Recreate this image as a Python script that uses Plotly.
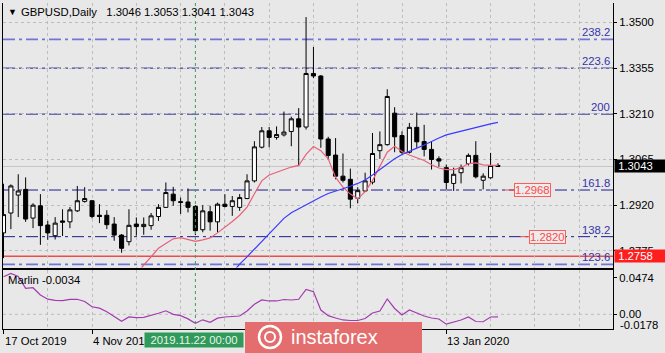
import plotly.graph_objects as go

# ---------------- data ----------------
date_labels = ["17 Oct 2019", "4 Nov 2019", "13 Jan 2020"]
date_label_bars = [0, 12, 60]
crosshair_bar = 26
crosshair_label = "2019.11.22 00:00"

opens = [1.2832, 1.2895, 1.2952, 1.2970, 1.2879, 1.2918, 1.2857, 1.2823, 1.2870, 1.2867,
         1.2902, 1.2932, 1.2934, 1.2888, 1.2888, 1.2860, 1.2825, 1.2804, 1.2860, 1.2852,
         1.2855, 1.2884, 1.2913, 1.2955, 1.2931, 1.2930, 1.2916, 1.2842, 1.2899, 1.2867,
         1.2923, 1.2916, 1.2913, 1.2941, 1.2997, 1.3104, 1.3156, 1.3135, 1.3143, 1.3154,
         1.3194, 1.3168, 1.3338, 1.3330, 1.3130, 1.3079, 1.3012, 1.3002, 1.2942, 1.2965,
         1.2993, 1.3093, 1.3112, 1.3212, 1.3141, 1.3088, 1.3167, 1.3122, 1.3097, 1.3067,
         1.3039, 1.2989, 1.3023, 1.3052, 1.3078, 1.2999, 1.3007, 1.3046]
highs = [1.2988, 1.2986, 1.3018, 1.3008, 1.2926, 1.2955, 1.2870, 1.2882, 1.2907, 1.2914,
         1.2981, 1.2977, 1.2936, 1.2923, 1.2904, 1.2882, 1.2828, 1.2907, 1.2881, 1.2881,
         1.2895, 1.2923, 1.2992, 1.2978, 1.2944, 1.2973, 1.2920, 1.2920, 1.2918, 1.2928,
         1.2955, 1.2949, 1.2955, 1.3018, 1.3123, 1.3168, 1.3168, 1.3170, 1.3217, 1.3201,
         1.3228, 1.3517, 1.3422, 1.3333, 1.3137, 1.3133, 1.3084, 1.3036, 1.2977, 1.3023,
         1.3149, 1.3154, 1.3288, 1.3231, 1.3154, 1.3181, 1.3214, 1.3175, 1.3123, 1.3075,
         1.3049, 1.3039, 1.3049, 1.3084, 1.3123, 1.3021, 1.3086, 1.3053]
lows = [1.2752, 1.2844, 1.2882, 1.2867, 1.2847, 1.2794, 1.2810, 1.2811, 1.2822, 1.2847,
        1.2898, 1.2928, 1.2878, 1.2863, 1.2844, 1.2807, 1.2769, 1.2792, 1.2823, 1.2826,
        1.2842, 1.2870, 1.2911, 1.2918, 1.2892, 1.2897, 1.2825, 1.2834, 1.2839, 1.2834,
        1.2913, 1.2886, 1.2902, 1.2939, 1.2992, 1.3100, 1.3104, 1.3128, 1.3138, 1.3107,
        1.3044, 1.3160, 1.3323, 1.3102, 1.3065, 1.3002, 1.2992, 1.2910, 1.2926, 1.2962,
        1.2986, 1.3067, 1.3109, 1.3088, 1.3081, 1.3084, 1.3102, 1.3075, 1.3033, 1.3042,
        1.2970, 1.2965, 1.2989, 1.3046, 1.3005, 1.2970, 1.3004, 1.3041]
closes = [1.2890, 1.2981, 1.2965, 1.2876, 1.2920, 1.2855, 1.2832, 1.2863, 1.2866, 1.2905,
          1.2934, 1.2941, 1.2884, 1.2884, 1.2858, 1.2825, 1.2783, 1.2856, 1.2852, 1.2859,
          1.2886, 1.2913, 1.2960, 1.2934, 1.2929, 1.2913, 1.2839, 1.2902, 1.2867, 1.2923,
          1.2916, 1.2934, 1.2944, 1.2997, 1.3105, 1.3156, 1.3135, 1.3144, 1.3152, 1.3194,
          1.3168, 1.3338, 1.3330, 1.3130, 1.3078, 1.3012, 1.2999, 1.2939, 1.2966, 1.2997,
          1.3084, 1.3112, 1.3265, 1.3137, 1.3088, 1.3167, 1.3121, 1.3097, 1.3065, 1.3060,
          1.2992, 1.3018, 1.3039, 1.3078, 1.3010, 1.3012, 1.3046, 1.3043]

ma_fast_start = 18
ma_fast = [1.2700, 1.2730, 1.2756, 1.2783, 1.2798, 1.2813, 1.2817, 1.2812, 1.2805, 1.2810,
           1.2816, 1.2832, 1.2849, 1.2868, 1.2888, 1.2914, 1.2956, 1.2997, 1.3016, 1.3025,
           1.3033, 1.3041, 1.3046, 1.3081, 1.3106, 1.3093, 1.3067, 1.3008, 1.2977, 1.2955,
           1.2940, 1.2963, 1.2998, 1.3041, 1.3088, 1.3107, 1.3090, 1.3079, 1.3071, 1.3062,
           1.3048, 1.3038, 1.3033, 1.3033, 1.3039, 1.3052, 1.3054, 1.3048, 1.3046, 1.3046]

ma_slow_start = 31
ma_slow = [1.2705, 1.2733, 1.2756, 1.2780, 1.2806, 1.2831, 1.2855, 1.2878, 1.2896, 1.2909,
           1.2922, 1.2934, 1.2946, 1.2957, 1.2964, 1.2972, 1.2980, 1.2989, 1.3000, 1.3016,
           1.3033, 1.3050, 1.3067, 1.3081, 1.3092, 1.3101, 1.3111, 1.3123, 1.3133, 1.3143,
           1.3149, 1.3156, 1.3161, 1.3167, 1.3172, 1.3178, 1.3183]

marlin = [0.0491, 0.0533, 0.0493, 0.0339, 0.0347, 0.0252, 0.0197, 0.0183, 0.0179, 0.0196,
          0.0196, 0.0167, 0.0098, 0.0080, 0.0034, -0.0033, -0.0091, -0.0034, -0.0043, -0.0040,
          -0.0016, 0.0013, 0.0046, 0.0000, -0.0017, -0.0060, -0.0117, -0.0072, -0.0104, -0.0050,
          -0.0035, -0.0027, -0.0022, 0.0043, 0.0131, 0.0187, 0.0174, 0.0174, 0.0193, 0.0187,
          0.0196, 0.0326, 0.0296, 0.0056, -0.0018, -0.0048, -0.0074, -0.0081, -0.0081, -0.0055,
          0.0017, 0.0043, 0.0200, 0.0076, -0.0009, 0.0056, 0.0013, -0.0022, -0.0048, -0.0061,
          -0.0129, -0.0101, -0.0074, -0.0035, -0.0094, -0.0097, -0.0035, -0.0034]

fib_levels = ["238.2", "223.6", "200", "161.8", "138.2", "123.6"]
fib_prices = [1.3446, 1.3355, 1.3209, 1.2968, 1.2820, 1.2732]
price_labels = [1.2968, 1.2820]
bid_price = 1.3043
support_price = 1.2758
marlin_ticks = [0.0474, 0.0]
marlin_tick_text = ["0.0474", "0.00"]
marlin_min_label = "-0.0178"

title_text = "GBPUSD,Daily\u00a0\u00a0 1.3046 1.3053 1.3041 1.3043"
marlin_text = "Marlin -0.0034"

# ---------------- figure ----------------
W, H = 665, 353
def px(x):
    return x / W
def py(y):
    return 1 - y / H

FONT = "Liberation Sans, Arial, sans-serif"
BG = "#e8e8e8"
GRID = "#bdbdbd"
bars = list(range(len(opens)))

fig = go.Figure()
fig.add_trace(go.Candlestick(
    x=bars, open=opens, high=highs, low=lows, close=closes,
    xaxis="x", yaxis="y", whiskerwidth=0, hoverinfo="skip",
    increasing=dict(line=dict(color="black", width=1), fillcolor="white"),
    decreasing=dict(line=dict(color="black", width=1), fillcolor="black"),
))
fig.add_trace(go.Scatter(
    x=list(range(ma_fast_start, ma_fast_start + len(ma_fast))), y=ma_fast,
    mode="lines", line=dict(color="#e8607a", width=1.2), xaxis="x", yaxis="y", hoverinfo="skip"))
fig.add_trace(go.Scatter(
    x=list(range(ma_slow_start, ma_slow_start + len(ma_slow))), y=ma_slow,
    mode="lines", line=dict(color="#3a3aff", width=1.2), xaxis="x", yaxis="y", hoverinfo="skip"))
fig.add_trace(go.Scatter(
    x=bars, y=marlin, mode="lines", line=dict(color="#a33bb0", width=1.2),
    xaxis="x2", yaxis="y2", hoverinfo="skip"))

xr = [-0.068, 82.59]
main_dom = [1 - 267.5 / H, 1 - 3 / H]
low_dom = [1 - 329.3 / H, 1 - 270 / H]
x_dom = [3 / W, 613 / W]

fig.update_layout(
    width=W, height=H, margin=dict(l=0, r=0, t=0, b=0),
    paper_bgcolor=BG, plot_bgcolor=BG, showlegend=False,
    boxgap=0.45, boxgroupgap=0,
    font=dict(family=FONT, size=11, color="black"),
    xaxis=dict(domain=x_dom, range=xr, anchor="y", showgrid=True, gridcolor=GRID,
               griddash="dot", gridwidth=1, tickmode="linear", tick0=0, dtick=6,
               showticklabels=False, ticks="", zeroline=False, showline=True,
               linecolor="black", linewidth=1, rangeslider=dict(visible=False), fixedrange=True),
    yaxis=dict(domain=main_dom, range=[1.27221, 1.35617], anchor="x", side="right",
               tickmode="linear", tick0=1.2775, dtick=0.0145, tickformat=".4f",
               ticks="outside", ticklen=3, tickcolor="black", showline=True, mirror=True,
               linecolor="black", linewidth=1, showgrid=True, gridcolor=GRID, griddash="dot",
               zeroline=False, tickfont=dict(size=11.3, family=FONT)),
    xaxis2=dict(domain=x_dom, range=xr, anchor="y2", matches="x", showgrid=True,
                gridcolor=GRID, griddash="dot", tickmode="array", tickvals=date_label_bars,
                ticks="outside", ticklen=4, tickcolor="black", showticklabels=False,
                minor=dict(tickmode="linear", tick0=0, dtick=6, showgrid=True,
                           gridcolor=GRID, griddash="dot", ticks=""),
                zeroline=False, showline=True, mirror=True, linecolor="black", linewidth=1),
    yaxis2=dict(domain=low_dom, range=[-0.01958, 0.05783], anchor="x2", side="right",
                tickmode="array", tickvals=marlin_ticks, ticktext=marlin_tick_text,
                ticks="outside", ticklen=3, tickcolor="black", showline=True, mirror=True,
                linecolor="black", linewidth=1, showgrid=False, zeroline=False,
                tickfont=dict(size=11.3, family=FONT)),
)

shapes = []
# zero line of Marlin
shapes.append(dict(type="line", xref="x2 domain", x0=0, x1=1, yref="y2", y0=0, y1=0,
                   line=dict(color=GRID, width=1, dash="dot"), layer="below"))
# bid line
shapes.append(dict(type="line", xref="x domain", x0=0, x1=1, yref="y", y0=bid_price, y1=bid_price,
                   line=dict(color="#c4c4c4", width=1), layer="below"))
# support line
shapes.append(dict(type="line", xref="x domain", x0=0, x1=1, yref="y", y0=support_price, y1=support_price,
                   line=dict(color="#f04a4a", width=1.6), layer="below"))
# fibonacci lines
for lvl, p in zip(fib_levels, fib_prices):
    light = lvl in ("238.2", "123.6")
    shapes.append(dict(type="line", xref="x domain", x0=0, x1=1, yref="y", y0=p, y1=p,
                       line=dict(color="#7474d8" if light else "#1c1c8e",
                                 width=1.8 if light else 1, dash="12px,4px,3px,4px"),
                       layer="below"))
# red connectors to price labels
shapes.append(dict(type="line", xref="paper", x0=px(505), x1=px(515), yref="y",
                   y0=price_labels[0], y1=price_labels[0], line=dict(color="#f04a4a", width=1)))
shapes.append(dict(type="line", xref="paper", x0=px(520), x1=px(530), yref="y",
                   y0=price_labels[1], y1=price_labels[1], line=dict(color="#f04a4a", width=1)))
# crosshair
shapes.append(dict(type="line", xref="x", x0=crosshair_bar, x1=crosshair_bar, yref="paper",
                   y0=py(330), y1=py(3), line=dict(color="#3f9a60", width=1, dash="dot"),
                   layer="above"))
# watermark box
shapes.append(dict(type="rect", xref="paper", yref="paper", x0=px(245), x1=px(422),
                   y0=py(353), y1=py(322), fillcolor="#e46d6d", line=dict(width=0), layer="above"))
shapes.append(dict(type="circle", xref="paper", yref="paper", x0=px(259), x1=px(281),
                   y0=py(348), y1=py(326), line=dict(color="white", width=2.5), layer="above"))
shapes.append(dict(type="circle", xref="paper", yref="paper", x0=px(265), x1=px(275),
                   y0=py(342), y1=py(332), line=dict(color="white", width=2), layer="above"))
fig.update_layout(shapes=shapes)

ann = []
ann.append(dict(text="\u25bc", x=px(6), y=py(12), xref="paper", yref="paper",
                xanchor="left", yanchor="middle", showarrow=False, font=dict(size=9)))
ann.append(dict(text=title_text, x=px(19), y=py(12), xref="paper", yref="paper",
                xanchor="left", yanchor="middle", showarrow=False, font=dict(size=11.3)))
ann.append(dict(text=marlin_text, x=px(6), y=py(280), xref="paper", yref="paper",
                xanchor="left", yanchor="middle", showarrow=False, font=dict(size=11.3)))
for lvl, p in zip(fib_levels, fib_prices):
    ann.append(dict(text=lvl, x=px(612), y=p, xref="paper", yref="y", xanchor="right",
                    yanchor="bottom", yshift=-1, showarrow=False,
                    font=dict(size=11.3, color="#3434a8")))
# price labels with red frame
for p, x0 in zip(price_labels, [514, 529]):
    ann.append(dict(text="%.4f" % p, x=px(x0), y=p, xref="paper", yref="y", xanchor="left",
                    yanchor="middle", showarrow=False, bgcolor="#ececec",
                    bordercolor="#ff5c5c", borderwidth=1, borderpad=0,
                    font=dict(size=11.3, color="#ff4a4a")))
# right-side boxes
ann.append(dict(text="\u00a0%.4f" % bid_price, x=px(614), y=bid_price, xref="paper", yref="y",
                xanchor="left", yanchor="middle", showarrow=False, bgcolor="black",
                width=51, height=12, align="left", borderpad=0, font=dict(size=11.3, color="white")))
ann.append(dict(text="\u00a0%.4f" % support_price, x=px(614), y=support_price, xref="paper",
                yref="y", xanchor="left", yanchor="middle", showarrow=False, bgcolor="#ff1e1e",
                width=51, height=12, align="left", borderpad=0, font=dict(size=11.3, color="white")))
ann.append(dict(text=marlin_min_label, x=px(618), y=py(324.5), xref="paper", yref="paper",
                xanchor="left", yanchor="middle", showarrow=False, font=dict(size=11.3)))
# date labels
for lab, b in zip(date_labels, date_label_bars):
    ann.append(dict(text=lab, x=b, y=py(341), xref="x2", yref="paper", xanchor="left",
                    yanchor="middle", xshift=-1, showarrow=False, font=dict(size=11.3)))
ann.append(dict(text=crosshair_label, x=px(144), y=py(340), xref="paper", yref="paper",
                xanchor="left", yanchor="middle", showarrow=False, bgcolor="#2f9a5a",
                width=96, height=12, borderpad=1, font=dict(size=11.3, color="#e8f4e8")))
ann.append(dict(text="instaforex", x=px(289), y=py(337), xref="paper", yref="paper",
                xanchor="left", yanchor="middle", showarrow=False,
                font=dict(size=20, color="white")))
fig.update_layout(annotations=ann)

fig.write_html("out.html")
